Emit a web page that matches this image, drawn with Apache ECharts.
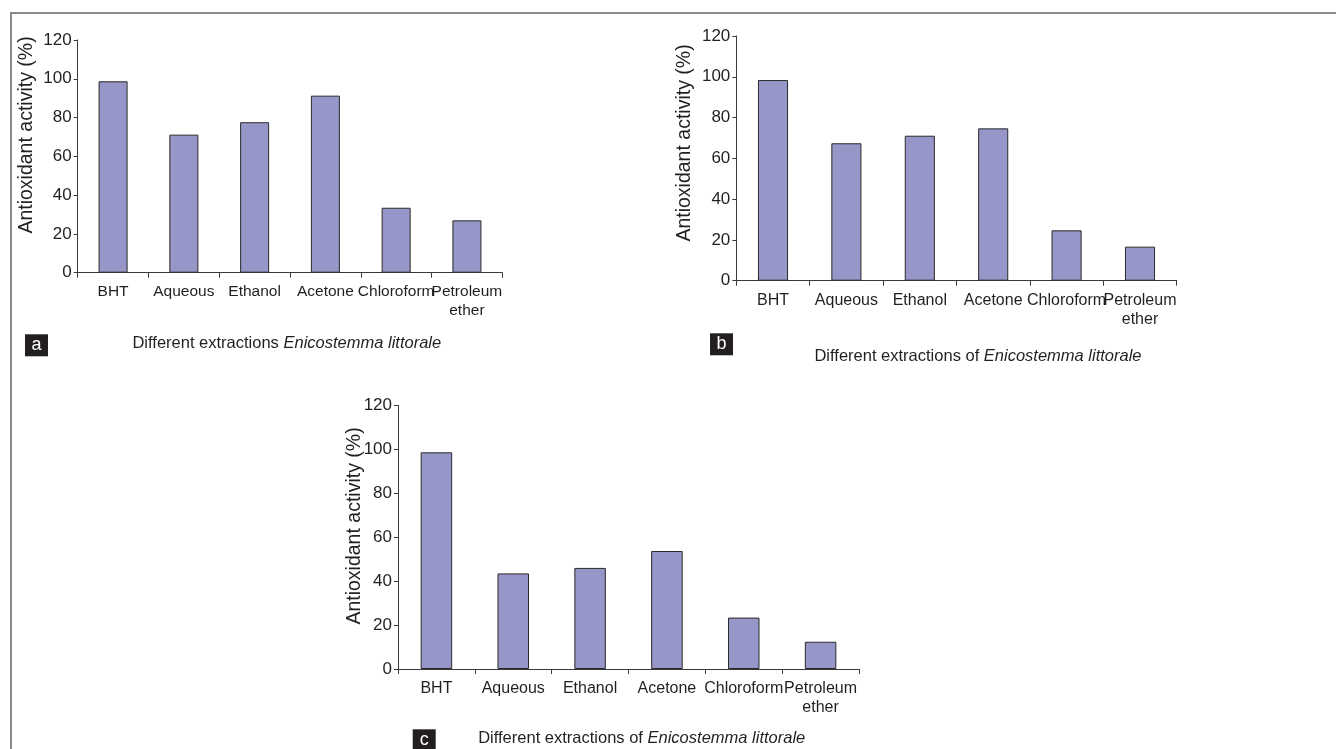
<!DOCTYPE html>
<html>
<head>
<meta charset="utf-8">
<script src="https://cdn.jsdelivr.net/npm/echarts@6/dist/echarts.min.js"></script>
<style>
html,body{margin:0;padding:0;background:#fff;}
#chart{width:1336px;height:749px;}
</style>
</head>
<body>
<div id="chart"></div>
<script>
const categories = ['BHT', 'Aqueous', 'Ethanol', 'Acetone', 'Chloroform', 'Petroleum\nether'];
const valuesA = [98.7, 71.2, 77.6, 91.3, 33.5, 27.0];
const valuesB = [98.4, 67.4, 71.1, 74.7, 24.7, 16.7];
const valuesC = [98.6, 43.5, 46.0, 53.7, 23.4, 12.4];
const yMin = 0, yMax = 120, yStep = 20;
const yName = 'Antioxidant activity (%)';
const panelLetters = ['a', 'b', 'c'];
const titleNormal = ['Different extractions ', 'Different extractions of ', 'Different extractions of '];
const titleItalic = 'Enicostemma littorale';

const SANS = '"Liberation Sans", Arial, sans-serif';
const TXT = '#231f20';
const AX = '#3a3a3a';

const grids = [
  {left: 77.7, top: 40, width: 424.6, height: 232.7},
  {left: 736.3, top: 36, width: 440.4, height: 244.7},
  {left: 398, top: 405.3, width: 461, height: 263.7}
];
const xLabelSize = [15.5, 16, 16];
const allValues = [valuesA, valuesB, valuesC];

const xAxes = grids.map((g, i) => ({
  type: 'category', gridIndex: i, data: categories,
  axisLine: {lineStyle: {color: AX, width: 1}},
  axisTick: {show: true, length: 5, lineStyle: {color: AX}},
  axisLabel: {color: TXT, fontFamily: SANS, fontSize: xLabelSize[i], lineHeight: 19, margin: 10, interval: 0}
}));
const yAxes = grids.map((g, i) => ({
  type: 'value', gridIndex: i, min: yMin, max: yMax, interval: yStep,
  axisLine: {show: true, lineStyle: {color: AX, width: 1}},
  axisTick: {show: true, length: 4, lineStyle: {color: AX}},
  splitLine: {show: false},
  axisLabel: {color: TXT, fontFamily: SANS, fontSize: 17, margin: 6}
}));
const series = allValues.map((vals, i) => ({
  type: 'bar', xAxisIndex: i, yAxisIndex: i, data: vals,
  barWidth: '41%',
  itemStyle: {color: '#9696c8', borderColor: '#2a2a2a', borderWidth: 1},
  silent: true
}));

const yNamePos = [[27, 135], [685, 143], [355, 526]];
const titlePos = [[286.8, 343], [978, 356.7], [641.7, 738.3]];
const boxPos = [[25, 334.3], [710, 333.3], [412.7, 729.3]];

const graphics = [
  {type: 'line', shape: {x1: 11, y1: 13, x2: 1336, y2: 13}, style: {stroke: '#8a8a8a', lineWidth: 2}},
  {type: 'line', shape: {x1: 11, y1: 12, x2: 11, y2: 749}, style: {stroke: '#8a8a8a', lineWidth: 2}}
];
for (let i = 0; i < 3; i++) {
  graphics.push({
    type: 'text', x: yNamePos[i][0], y: yNamePos[i][1], rotation: Math.PI / 2,
    style: {text: yName, fill: TXT, font: '19.5px ' + SANS, align: 'center', verticalAlign: 'middle'}
  });
  graphics.push({
    type: 'text', x: titlePos[i][0], y: titlePos[i][1],
    style: {
      text: '{n|' + titleNormal[i] + '}{i|' + titleItalic + '}',
      align: 'center', verticalAlign: 'middle',
      rich: {
        n: {fill: TXT, fontFamily: SANS, fontSize: 16.5},
        i: {fill: TXT, fontFamily: SANS, fontSize: 16.5, fontStyle: 'italic'}
      }
    }
  });
  graphics.push({
    type: 'rect', shape: {x: boxPos[i][0], y: boxPos[i][1], width: 23, height: 22},
    style: {fill: '#231f20'}
  });
  graphics.push({
    type: 'text', x: boxPos[i][0] + 11.5, y: boxPos[i][1] + 11,
    style: {text: panelLetters[i], fill: '#ffffff', font: '18px ' + SANS, align: 'center', verticalAlign: 'middle'}
  });
}

const chart = echarts.init(document.getElementById('chart'), null, {renderer: 'canvas'});
chart.setOption({
  animation: false,
  backgroundColor: '#ffffff',
  grid: grids,
  xAxis: xAxes,
  yAxis: yAxes,
  series: series,
  graphic: graphics
});
</script>
</body>
</html>
